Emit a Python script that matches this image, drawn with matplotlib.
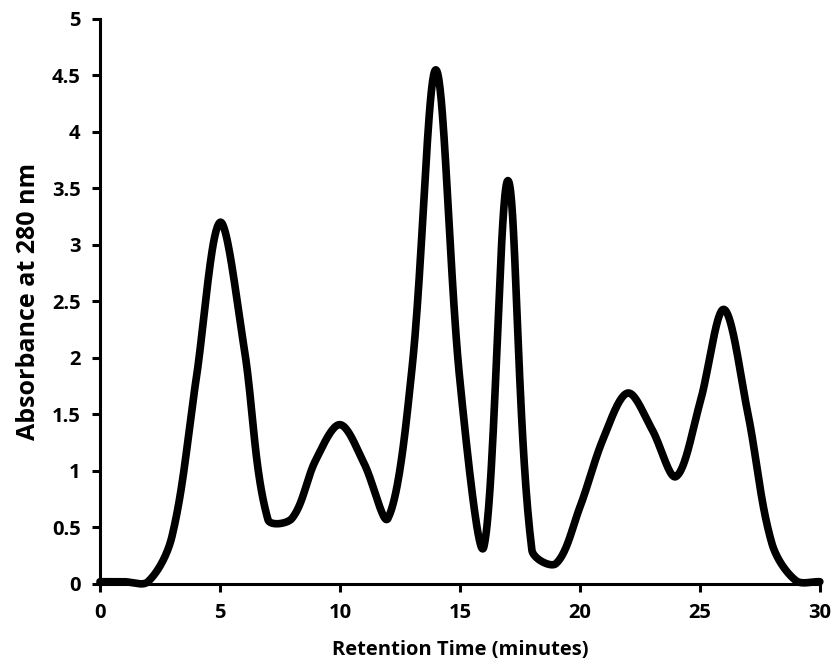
import numpy as np
import matplotlib
matplotlib.use("Agg")
import matplotlib.pyplot as plt

plt.rcParams['font.family'] = ['Open Sans', 'DejaVu Sans']

# retention time (minutes) and absorbance
minutes = [0, 1, 2, 3, 4, 5, 6, 7, 8, 9, 10, 11, 12, 13, 14, 15,
           16, 17, 18, 19, 20, 21, 22, 23, 24, 25, 26, 27, 28, 29, 30]
absorbance = [0.02, 0.02, 0.02, 0.42, 1.8, 3.2, 2.1, 0.57, 0.58, 1.1, 1.41, 1.07,
              0.58, 1.9, 4.55, 1.8, 0.33, 3.57, 0.3, 0.18, 0.68, 1.3, 1.69,
              1.37, 0.95, 1.6, 2.43, 1.51, 0.36, 0.03, 0.02]

FIG_W, FIG_H = 8.4, 6.71
AX_RECT = [0.119, 0.1297, 0.857, 0.842]


def smooth(x, y, sx, sy, n=40):
    # excel-like smoothed line: bezier with chord-length scaled tangents (pixel space)
    P = np.column_stack([np.asarray(x, float) * sx, np.asarray(y, float) * sy])
    m = len(P)
    out = []
    t = np.linspace(0, 1, n)[:, None]
    for i in range(m - 1):
        p0 = P[i - 1] if i > 0 else P[i]
        p1, p2 = P[i], P[i + 1]
        p3 = P[i + 2] if i + 2 < m else P[i + 1]
        l01 = np.hypot(*(p1 - p0))
        l12 = np.hypot(*(p2 - p1))
        l23 = np.hypot(*(p3 - p2))
        c1 = p1 + (p2 - p0) * (l12 / (l01 + l12)) / 3 if l01 > 0 else p1 + (p2 - p1) / 3
        c2 = p2 - (p3 - p1) * (l12 / (l12 + l23)) / 3 if l23 > 0 else p2 - (p2 - p1) / 3
        out.append((1 - t) ** 3 * p1 + 3 * (1 - t) ** 2 * t * c1
                   + 3 * (1 - t) * t ** 2 * c2 + t ** 3 * p2)
    out = np.vstack(out)
    return out[:, 0] / sx, out[:, 1] / sy


px_x = FIG_W * 100 * AX_RECT[2] / 30
px_y = FIG_H * 100 * AX_RECT[3] / 5
cx, cy = smooth(minutes, absorbance, px_x, px_y)

fig = plt.figure(figsize=(FIG_W, FIG_H), dpi=100)
ax = fig.add_axes(AX_RECT)
ax.plot(cx, cy, color='black', linewidth=5.5, solid_capstyle='round', clip_on=False)

ax.set_xlim(0, 30)
ax.set_ylim(0, 5)
ax.set_xticks(range(0, 31, 5))
ax.set_yticks(np.arange(0, 5.01, 0.5))
ax.set_yticklabels(['0', '0.5', '1', '1.5', '2', '2.5', '3', '3.5', '4', '4.5', '5'])

for s in ['top', 'right']:
    ax.spines[s].set_visible(False)
for s in ['left', 'bottom']:
    ax.spines[s].set_linewidth(2.2)
ax.tick_params(direction='out', length=6, width=2.2, labelsize=14.5, pad=8)
for lab in ax.get_xticklabels() + ax.get_yticklabels():
    lab.set_fontweight('bold')

ax.set_xlabel('Retention Time (minutes)', fontsize=14.5, fontweight='bold', labelpad=12)
ax.set_ylabel('Absorbance at 280 nm', fontsize=18, fontweight='bold', labelpad=8)

fig.savefig('out.png', dpi=100)
